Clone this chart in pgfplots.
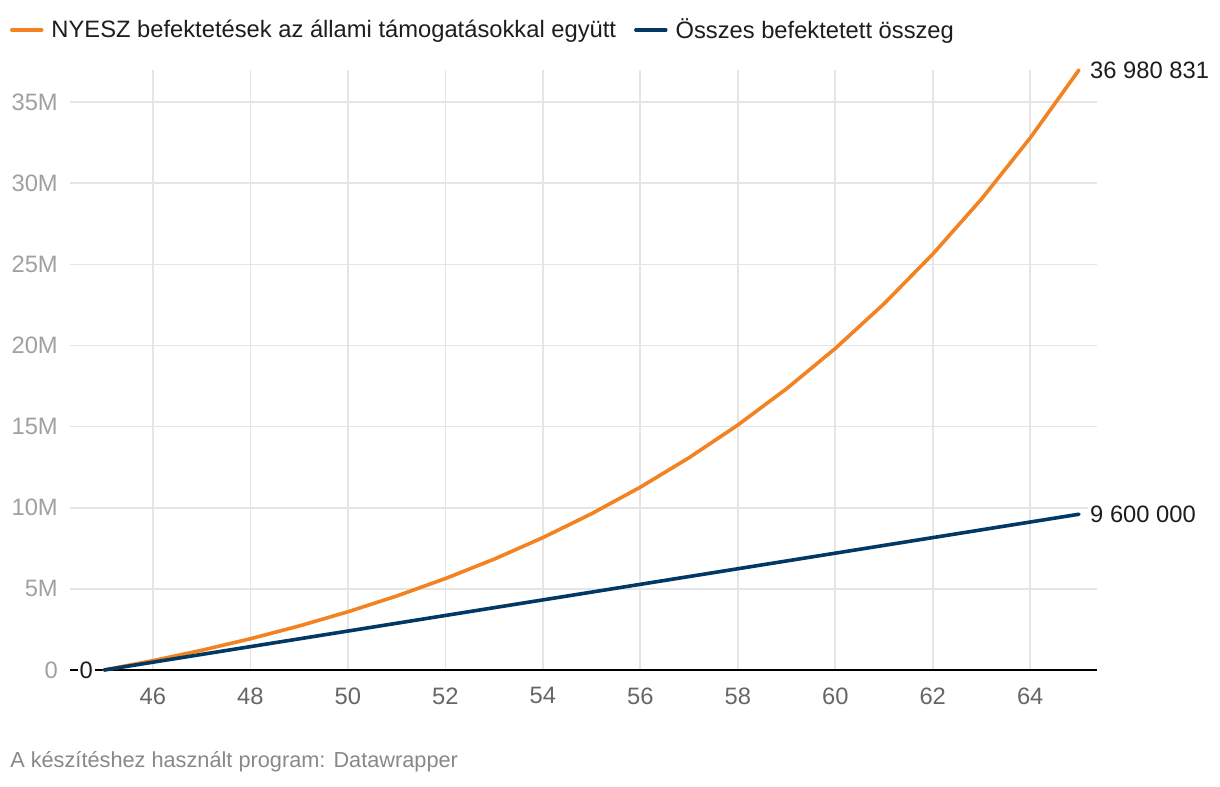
\documentclass[border=0pt]{standalone}
\usepackage{pgfplots}
\pgfplotsset{compat=1.18}
\usepackage{fontspec}
\setmainfont{Liberation Sans}
\definecolor{dworange}{RGB}{243,130,32}
\definecolor{dwblue}{RGB}{3,56,101}
\definecolor{gridc}{RGB}{229,229,229}
\definecolor{ylab}{RGB}{160,160,160}
\definecolor{xlab}{RGB}{102,102,102}
\definecolor{foot}{RGB}{136,136,136}
\definecolor{txt}{RGB}{29,29,29}
\pgfplotstableread{
x y
45 0
46 576000
47 1215360
48 1925050
49 2712805
50 3587214
51 4557807
52 5635166
53 6831034
54 8158448
55 9631877
56 11267384
57 13082796
58 15097903
59 17334673
60 19817487
61 22573410
62 25632485
63 29028059
64 32797145
65 36980831
}\nyesz
\pgfplotstableread{
x y
45 0
46 480000
47 960000
48 1440000
49 1920000
50 2400000
51 2880000
52 3360000
53 3840000
54 4320000
55 4800000
56 5280000
57 5760000
58 6240000
59 6720000
60 7200000
61 7680000
62 8160000
63 8640000
64 9120000
65 9600000
}\osszes
\newcommand{\mainfs}{\fontsize{17.8}{21}\selectfont}
\begin{document}
\begin{tikzpicture}
\useasboundingbox (-52.5pt,-87pt) rectangle (862.5pt,502.5pt);
\begin{axis}[
  at={(0pt,0pt)}, anchor=south west,
  scale only axis, width=770.25pt, height=450pt,
  xmin=44.3, xmax=65.37, ymin=0, ymax=36980831,
  axis line style={draw=none},
  xtick={46,48,50,52,54,56,58,60,62,64},
  xticklabels={46,48,50,52,54,56,58,60,62,64},
  ytick={0,5000000,10000000,15000000,20000000,25000000,30000000,35000000},
  yticklabels={0,5M,10M,15M,20M,25M,30M,35M},
  scaled y ticks=false, scaled x ticks=false,
  grid=major, major grid style={gridc, line width=1.2pt},
  major tick length=0pt, tick style={draw=none},
  yticklabel style={font=\mainfs, text=ylab, anchor=east, inner sep=0pt, xshift=-9pt},
  xticklabel style={font=\mainfs, text=xlab, anchor=north, inner sep=0pt, yshift=-13pt},
  clip=false,
  legend columns=2,
  legend style={draw=none, fill=none, at={(rel axis cs:-0.0584,1.0667)}, anchor=west,
    font=\mainfs, text=txt, inner sep=0pt, outer sep=0pt, nodes={inner sep=0pt},
    column sep=6pt, /tikz/every even column/.append style={column sep=13.5pt}},
  legend image code/.code={\draw[#1, line width=2.6pt, line cap=round] (0pt,0pt) -- (22.5pt,0pt);},
]
\draw[black, line width=1.8pt] (rel axis cs:0,0) -- (rel axis cs:1,0);
\addplot[dworange, line width=2.7pt, line cap=round, line join=round] table[x=x,y=y] {\nyesz};
\addlegendentry{NYESZ befektetések az állami támogatásokkal együtt}
\addplot[dwblue, line width=2.7pt, line cap=round, line join=round] table[x=x,y=y] {\osszes};
\addlegendentry{Összes befektetett összeg}
\node[anchor=west, font=\mainfs, text=txt, fill=white, inner sep=1.5pt, xshift=6.75pt] at (axis cs:65,36980831) {36 980 831};
\node[anchor=west, font=\mainfs, text=txt, fill=white, inner sep=1.5pt, xshift=6.75pt] at (axis cs:65,9600000) {9 600 000};
\node[anchor=east, font=\mainfs, text=txt, fill=white, inner sep=1.5pt, xshift=-6.75pt] at (axis cs:45,0) {0};
\end{axis}
\node[anchor=west, font=\fontsize{16.3}{19}\selectfont, text=foot, inner sep=0pt] at (-45pt,-69pt) {A készítéshez használt program: Datawrapper};
\end{tikzpicture}
\end{document}
